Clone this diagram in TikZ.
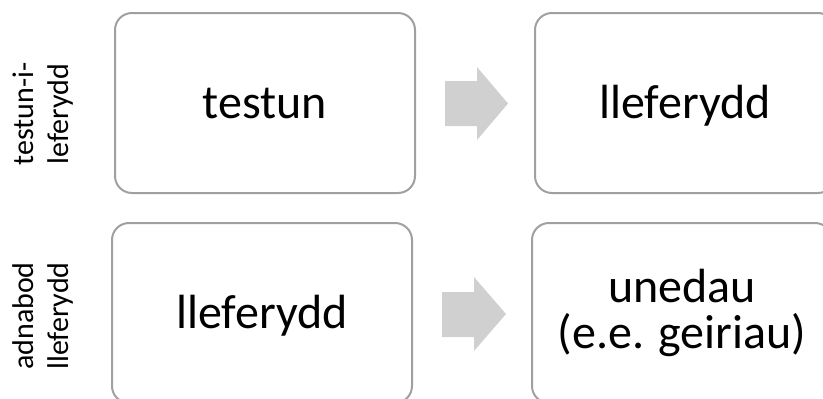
\documentclass[tikz,border=0pt]{standalone}
\usepackage{fontspec}
\setmainfont{Carlito}
\definecolor{boxline}{RGB}{160,160,160}
\definecolor{arrowfill}{RGB}{208,208,208}
\tikzset{
  stepbox/.style={draw=boxline, line width=2pt, rounded corners=17pt, minimum width=300pt, minimum height=180pt, inner sep=0pt},
  bigtext/.style={font=\fontsize{48}{46}\selectfont, anchor=base, inner sep=0pt, align=center},
  sidetext/.style={font=\fontsize{30}{35}\selectfont, rotate=90, inner sep=0pt, align=center},
  blockarrow/.style={fill=arrowfill}
}
\begin{document}
\begin{tikzpicture}[x=1pt,y=-1pt]
\useasboundingbox (0,0) rectangle (823,399);
\clip (0,0) rectangle (823,399);
% boxes
\node[stepbox] (b1) at (265,103) {};
\node[stepbox] (b2) at (685,103) {};
\node[stepbox] (b3) at (262,313) {};
\node[stepbox] (b4) at (682,313) {};
% texts
\node[bigtext] (t1) at (265,118) {testun};
\node[bigtext] (t2) at (685,118) {lleferydd};
\node[bigtext] (t3) at (262,328) {lleferydd};
\node[bigtext] (t4) at (682,302) {unedau};
\node[bigtext] (t5) at (682,348) {(e.e. geiriau)};
% side labels
\node[sidetext] (s1) at (43,114) {testun-i-\\leferydd};
\node[sidetext] (s2) at (43,316) {adnabod\\lleferydd};
% arrows
\fill[blockarrow] (445,81) -- (477,81) -- (477,67) -- (508,103.5) -- (477,140) -- (477,126) -- (445,126) -- cycle;
\fill[blockarrow] (442,292) -- (474,292) -- (474,277) -- (506,314) -- (474,351) -- (474,337) -- (442,337) -- cycle;
\end{tikzpicture}
\end{document}
